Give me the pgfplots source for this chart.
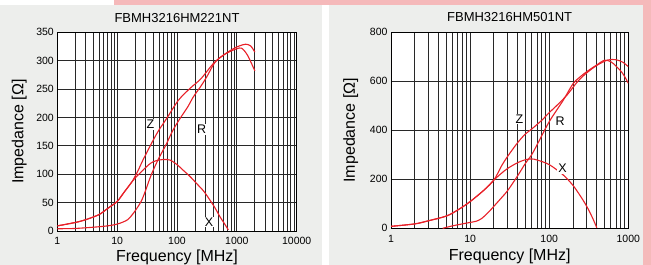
\documentclass[border=0pt]{standalone}
\usepackage{fontspec}
\setmainfont{Liberation Sans}
\usepackage{pgfplots}
\pgfplotsset{compat=1.18}
\definecolor{panel}{RGB}{237,238,236}
\definecolor{pinkb}{RGB}{245,185,186}
\definecolor{curve}{RGB}{232,32,40}
\definecolor{gridc}{RGB}{40,40,40}

\tikzset{lbl/.style={fill=white, inner sep=1bp, font=\fontsize{12.5bp}{14bp}\selectfont},
  crv/.style={curve, line width=1.1bp, smooth, tension=0.5, mark=none}}
\pgfplotsset{
  every axis/.append style={
    scale only axis,
    axis background/.style={fill=white},
    grid=both,
    major grid style={gridc, line width=0.9bp},
    minor grid style={gridc, line width=0.9bp},
    axis line style={black, line width=1bp},
    major tick length=0pt, minor tick length=0pt,
    tick label style={font=\fontsize{10.5bp}{12bp}\selectfont},
    xticklabel style={yshift=-3bp},
    /pgf/number format/assume math mode=true,
    every axis label/.append style={font=\fontsize{16bp}{19bp}\selectfont},
    every axis title/.append style={font=\fontsize{13bp}{15bp}\selectfont},
  },
}

\begin{document}
\begin{tikzpicture}
\useasboundingbox (0,0) rectangle (651bp,265bp);
\fill[white] (0,0) rectangle (651bp,265bp);
\fill[pinkb] (114bp,260bp) rectangle (651bp,265bp);
\fill[pinkb] (643bp,0) rectangle (651bp,265bp);
\fill[panel] (0,0) rectangle (322bp,260bp);
\fill[panel] (329bp,0) rectangle (643bp,260bp);

% ---------------- left ----------------
\begin{axis}[
  xmode=log, anchor=south west,
  at={(57.3bp,34bp)}, width=239.4bp, height=198.7bp,
  xmin=1, xmax=10000, ymin=0, ymax=350,
  xtick={1,10,100,1000,10000}, xticklabels={1,10,100,1000,10000},
  minor xtick={2,3,4,5,6,7,8,9,20,30,40,50,60,70,80,90,200,300,400,500,600,700,800,900,2000,3000,4000,5000,6000,7000,8000,9000},
  ytick={0,50,100,150,200,250,300,350},
  title={FBMH3216HM221NT},
  title style={at={(axis description cs:0.5,1)}, anchor=base, yshift=3.6bp},
  xlabel={Frequency [MHz]}, ylabel={Impedance [Ω]},
  xlabel style={at={(axis description cs:0.5,-0.151)}, anchor=base},
  ylabel style={at={(axis description cs:-0.142,0.5)}, anchor=base},
]
% Z
\addplot[crv] coordinates {(1,9) (2,15) (3,20) (5,29) (7,40) (10,52) (13,68) (17.5,86) (22,105) (27,125) (33,143) (40,160) (50,178) (67,198) (105,230) (164,251) (250,268) (405,295) (600,310) (870,321) (1100,326) (1400,329) (1700,326) (2000,315)};
% R
\addplot[crv] coordinates {(1,4) (2,4.5) (5,7.5) (8,10) (11,13.5) (15,20) (18.6,31) (22,42) (25.7,54) (30,72) (35,92) (40,107) (48,125) (57,140) (67,154) (85,177) (112,198) (150,218) (187,236) (250,255) (312,271) (430,297) (600,310) (800,317) (1000,321) (1200,322) (1500,310) (2000,282)};
% X
\addplot[crv] coordinates {(1,9) (2,15) (3,20) (5,29) (7,40) (10,52) (13,68) (17.5,86) (22,98) (27,107) (33,116) (40,122) (50,125) (59,126) (76,125) (100,117) (127,107) (165,96) (211,84) (280,70) (355,54.5) (430,41) (523,25) (620,13) (720,2)};
\node[lbl] at (axis cs:36,188) {Z};
\node[lbl] at (axis cs:257,179) {R};
\node[lbl] at (axis cs:343,16) {X};
\end{axis}

% ---------------- right ----------------
\begin{axis}[
  xmode=log, anchor=south west,
  at={(391bp,36.7bp)}, width=237.3bp, height=196bp,
  xmin=1, xmax=1000, ymin=0, ymax=800,
  xtick={1,10,100,1000}, xticklabels={1,10,100,1000},
  minor xtick={2,3,4,5,6,7,8,9,20,30,40,50,60,70,80,90,200,300,400,500,600,700,800,900},
  ytick={0,200,400,600,800},
  title={FBMH3216HM501NT},
  title style={at={(axis description cs:0.5,1)}, anchor=base, yshift=5bp},
  xlabel={Frequency [MHz]}, ylabel={Impedance [Ω]},
  xlabel style={at={(axis description cs:0.5,-0.162)}, anchor=base},
  ylabel style={at={(axis description cs:-0.152,0.5)}, anchor=base},
]
% Z
\addplot[crv] coordinates {(1,8) (2,18) (3,31) (5,50) (7,75) (10,109) (15,156) (20,197) (25,255) (30,295) (40,350) (50,385) (60,405) (80,440) (100,472) (130,507) (170,546) (230,600) (300,635) (400,665) (550,687) (700,688) (850,678) (1000,660)};
% R
\addplot[crv] coordinates {(4.5,0) (6,10) (8,18) (10,24) (12,29) (14,40) (17,65) (20,90) (25,125) (30,155) (40,215) (50,265) (60,300) (70,340) (100,435) (150,522) (200,590) (250,620) (300,640) (400,667) (500,686) (600,680) (700,662) (850,632) (1000,592)};
% X
\addplot[crv] coordinates {(1,8) (2,18) (3,31) (5,50) (7,75) (10,109) (15,156) (20,197) (25,225) (30,245) (40,268) (50,280) (60,283) (70,279) (100,260) (150,218) (200,175) (250,130) (300,88) (350,45) (400,2)};
\node[lbl] at (axis cs:42,446) {Z};
\node[lbl] at (axis cs:137,439) {R};
\node[lbl] at (axis cs:147,245) {X};
\end{axis}
\end{tikzpicture}
\end{document}
